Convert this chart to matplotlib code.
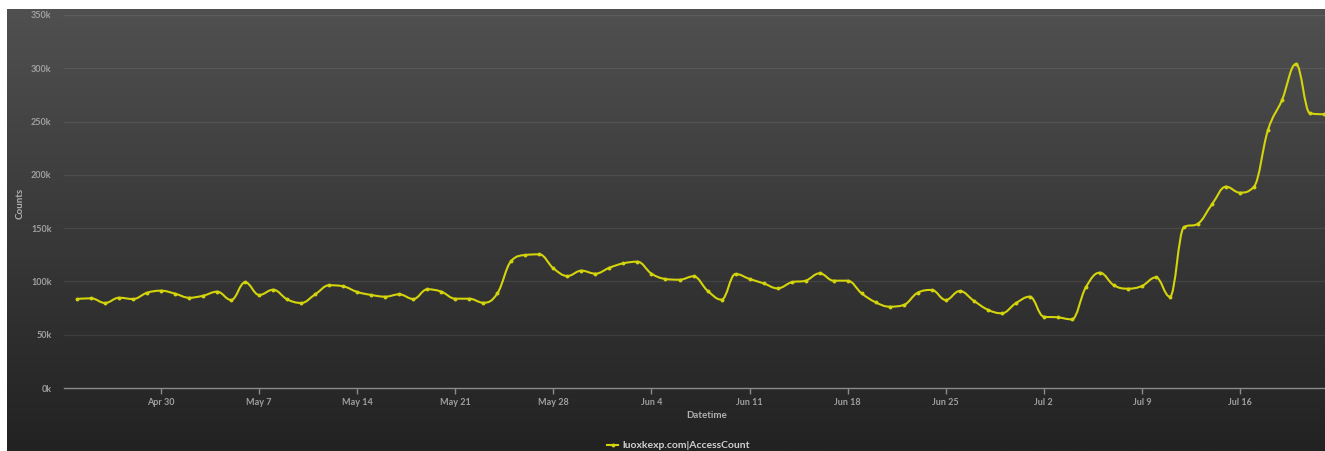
import numpy as np
import pandas as pd
import matplotlib
matplotlib.use("Agg")
import matplotlib.pyplot as plt
import matplotlib.dates as mdates
from matplotlib.path import Path
from matplotlib.patches import PathPatch
from matplotlib.ticker import FuncFormatter

plt.rcParams["font.family"] = ["Lato", "DejaVu Sans"]

# ---------------- data ----------------
start_date = "2018-04-24"
end_date = "2018-07-22"
series_name = "luoxkexp.com|AccessCount"
access_counts = [
    83500, 84200, 79800, 84700, 83500, 89400, 91300,                      # Apr 24-30
    88500, 84700, 86600, 90400, 82600, 99200, 87300, 92200, 83200, 79800,  # May 1-10
    87900, 96400, 95400, 90100, 87300, 85700, 87900, 83500, 92600, 90400,  # May 11-20
    83800, 83800, 80000, 88800, 119400, 124800, 125400, 112300, 105100,    # May 21-29
    110100, 107300,                                                        # May 30-31
    112900, 117000, 118500, 107300, 102300, 101600, 104800, 91300, 82900,  # Jun 1-9
    107000, 102300, 98200, 93500, 99200, 100700, 107600, 100700, 100700,   # Jun 10-18
    88800, 80400, 76300, 77900, 89400, 92000, 82600, 91000, 81900, 73500,  # Jun 19-28
    70100, 79500,                                                          # Jun 29-30
    85700, 66900, 66300, 64400, 94500, 108200, 96400, 93200, 95700,        # Jul 1-9
    103800, 85700, 150800, 154200, 172300, 188900, 183300, 188900,         # Jul 10-17
    242100, 270200, 304000, 257700, 256800,                                # Jul 18-22
]
week_ticks = ["2018-04-30", "2018-05-07", "2018-05-14", "2018-05-21", "2018-05-28",
              "2018-06-04", "2018-06-11", "2018-06-18", "2018-06-25", "2018-07-02",
              "2018-07-09", "2018-07-16"]
y_ticks = [0, 50000, 100000, 150000, 200000, 250000, 300000, 350000]

dates = pd.date_range(start_date, end_date, freq="D")
x = mdates.date2num(dates.to_pydatetime())
y = np.array(access_counts, dtype=float)


def spline_path(xs, ys, smoothing=1.5):
    """Highcharts-style spline path (cubic Bezier)."""
    n = len(xs)
    denom = smoothing + 1
    rc = [None] * n
    lc = [None] * n
    for i in range(n):
        if 0 < i < n - 1:
            px, py = xs[i], ys[i]
            lx, ly = xs[i - 1], ys[i - 1]
            nx, ny = xs[i + 1], ys[i + 1]
            lcx = (smoothing * px + lx) / denom
            lcy = (smoothing * py + ly) / denom
            rcx = (smoothing * px + nx) / denom
            rcy = (smoothing * py + ny) / denom
            corr = (rcy - lcy) * (rcx - px) / (rcx - lcx) + py - rcy
            lcy += corr
            rcy += corr
            if lcy > ly and lcy > py:
                lcy = max(ly, py); rcy = 2 * py - lcy
            elif lcy < ly and lcy < py:
                lcy = min(ly, py); rcy = 2 * py - lcy
            if rcy > ny and rcy > py:
                rcy = max(ny, py); lcy = 2 * py - rcy
            elif rcy < ny and rcy < py:
                rcy = min(ny, py); lcy = 2 * py - rcy
            lc[i] = (lcx, lcy)
            rc[i] = (rcx, rcy)
    verts = [(xs[0], ys[0])]
    codes = [Path.MOVETO]
    for i in range(1, n):
        c1 = rc[i - 1] if rc[i - 1] is not None else (xs[i - 1], ys[i - 1])
        c2 = lc[i] if lc[i] is not None else (xs[i], ys[i])
        verts += [c1, c2, (xs[i], ys[i])]
        codes += [Path.CURVE4] * 3
    return Path(verts, codes)


W, H = 1325, 451
fig = plt.figure(figsize=(W / 100, H / 100), dpi=100, facecolor="white")

# dark gradient panel
bg = fig.add_axes([7 / W, 0, (W - 7) / W, (H - 9) / H], zorder=0)
grad = np.linspace(0, 1, 256).reshape(-1, 1)
top = np.array([80, 80, 80]) / 255
bot = np.array([34, 34, 34]) / 255
img = top[None, None, :] * (1 - grad[:, :, None]) + bot[None, None, :] * grad[:, :, None]
bg.imshow(img, aspect="auto", extent=[0, 1, 0, 1])
bg.set_axis_off()

left_px, right_px, top_px, bottom_px = 64, 1325, 15, 388
ax = fig.add_axes([left_px / W, (H - bottom_px) / H, (right_px - left_px) / W,
                   (bottom_px - top_px) / H], zorder=1)
ax.set_facecolor("none")

line_color = "#D3D40C"
path = spline_path(x, y)
ax.add_patch(PathPatch(path, facecolor="none", edgecolor=line_color, lw=1.5,
                       capstyle="round", joinstyle="round", zorder=3))
ax.plot(x, y, linestyle="none", marker="o", markersize=2.8, color=line_color,
        markeredgewidth=0, zorder=4)

x0 = mdates.date2num(pd.Timestamp(start_date)) - 0.93
x1 = mdates.date2num(pd.Timestamp(end_date)) + 0.07
ax.set_xlim(x0, x1)
ax.set_ylim(0, 350000)

ax.set_yticks(y_ticks)
ax.yaxis.set_major_formatter(FuncFormatter(lambda v, p: f"{int(v / 1000)}k"))

tick_dates = pd.to_datetime(week_ticks)
ax.set_xticks(mdates.date2num(tick_dates.to_pydatetime()))
ax.set_xticklabels([f"{d.strftime('%b')} {d.day}" for d in tick_dates])

for s in ["top", "right", "left"]:
    ax.spines[s].set_visible(False)
ax.spines["bottom"].set_color("#8a8a8a")
ax.spines["bottom"].set_linewidth(1.0)

ax.tick_params(axis="x", colors="#8a8a8a", length=4, width=1, direction="out",
               pad=3, labelsize=6.5, labelcolor="#a0a0a0")
ax.tick_params(axis="y", length=0, pad=9, labelsize=6.5, labelcolor="#a0a0a0")
for lab in ax.get_xticklabels() + ax.get_yticklabels():
    lab.set_fontweight("bold")

ax.grid(False)
ax.yaxis.grid(True, color="white", alpha=0.08, lw=0.9)
ax.set_axisbelow(True)

fig.text(20 / W, 1 - 203 / H, "Counts", rotation=90, ha="center", va="center",
         fontsize=7, color="#b0b0b0", fontweight="bold")
fig.text(707 / W, 1 - 416 / H, "Datetime", ha="center", va="center",
         fontsize=7, color="#b0b0b0", fontweight="bold")

# legend
ly = 1 - 445 / H
fig.add_artist(plt.Line2D([607 / W, 618 / W], [ly, ly], color=line_color, lw=1.5,
                          transform=fig.transFigure))
fig.add_artist(plt.Line2D([612.5 / W], [ly], color=line_color, marker="o",
                          markersize=2.8, markeredgewidth=0, linestyle="none",
                          transform=fig.transFigure))
fig.text(622 / W, ly, series_name, ha="left", va="center",
         fontsize=7.5, color="#d0d0d0", fontweight="bold")

fig.savefig("out.png", dpi=100, facecolor="white")
